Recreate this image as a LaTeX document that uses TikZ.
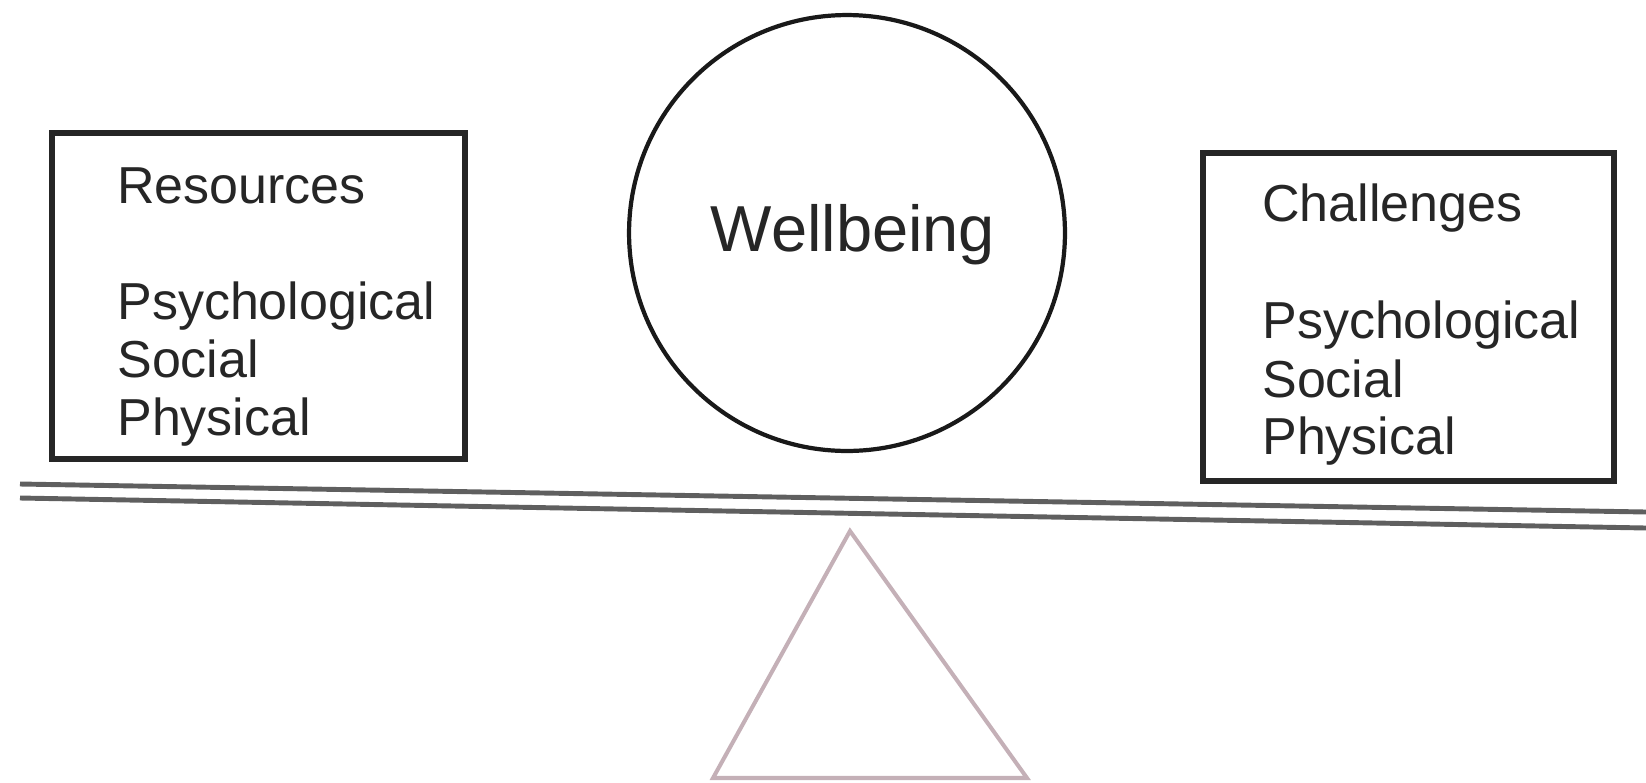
\documentclass[tikz,border=0pt]{standalone}
\usepackage{fontspec}
\setmainfont{Liberation Sans}
\usepackage{xcolor}
\usetikzlibrary{positioning, shapes.geometric, calc}

\definecolor{beamgray}{RGB}{95,95,95}
\definecolor{fulcrumpink}{RGB}{196,176,183}

\begin{document}
\begin{tikzpicture}[x=0.02cm, y=-0.02cm]
        \tikzstyle{pan} = [rectangle, draw=black!85, line width=3.5pt, inner sep=0pt]
        \tikzstyle{lbl} = [anchor=base west, inner sep=0pt, text=black!85, font=\fontsize{29.6}{33}\selectfont]
        \tikzstyle{beam} = [draw=beamgray, line width=2.8pt]
        \tikzstyle{fulcrum} = [draw=fulcrumpink, line width=2.3pt, line join=miter]

        \useasboundingbox (0,0) rectangle (1646,782);

        % left pan
        \node [pan, minimum width=8.26cm, minimum height=6.52cm] (resbox) at (258.5,296) {};
        \node [lbl] (restitle) at (117,203) {Resources};
        \node [lbl] (respsy) at (117,319) {Psychological};
        \node [lbl] (ressoc) at (117,377) {Social};
        \node [lbl] (resphy) at (117,435) {Physical};

        % right pan
        \node [pan, minimum width=8.22cm, minimum height=6.56cm] (chabox) at (1408.5,317) {};
        \node [lbl] (chatitle) at (1262,221) {Challenges};
        \node [lbl] (chapsy) at (1262,338) {Psychological};
        \node [lbl] (chasoc) at (1262,397) {Social};
        \node [lbl] (chaphy) at (1262,454) {Physical};

        % wellbeing in the middle
        \node [circle, draw=black!90, line width=2.4pt, minimum size=8.72cm, inner sep=0pt] (well) at (847,233) {};
        \node [anchor=base, inner sep=0pt, text=black!85, font=\fontsize{37}{40}\selectfont] (welltext) at (853,251) {Wellbeing};

        % beam
        \coordinate (beamA) at (20,484);
        \coordinate (beamB) at (1646,512);
        \coordinate (beamC) at (20,498);
        \coordinate (beamD) at (1646,528);
        \draw [beam] (beamA) -- (beamB);
        \draw [beam] (beamC) -- (beamD);

        % fulcrum
        \coordinate (apex) at (850,531);
        \coordinate (baseL) at (713,778);
        \coordinate (baseR) at (1027,778);
        \draw [fulcrum] (apex) -- (baseL) -- (baseR) -- cycle;
    \end{tikzpicture}
\end{document}
